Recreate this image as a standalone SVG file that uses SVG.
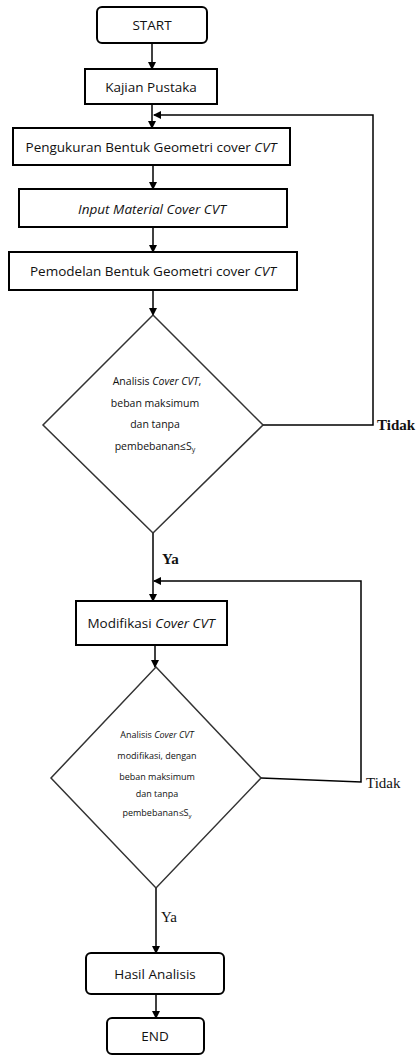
<svg xmlns="http://www.w3.org/2000/svg" width="419" height="1059" viewBox="0 0 419 1059">
<defs>
<marker id="ah" markerWidth="8" markerHeight="8" refX="7" refY="4" orient="auto" markerUnits="userSpaceOnUse">
<path d="M0,0 L8,4 L0,8 Z" fill="#000"/>
</marker>
</defs>
<style>
.box{fill:#fff;stroke:#000;stroke-width:2}
.dia{fill:#fff;stroke:#333;stroke-width:1.5}
.t{font-family:"Open Sans",sans-serif;font-size:13.5px;fill:#111;text-anchor:middle}
.it{font-style:italic}
.s{font-family:"Open Sans",sans-serif;font-size:10.5px;fill:#111;text-anchor:middle}
.s2{font-family:"Open Sans",sans-serif;font-size:9px;fill:#111;text-anchor:middle}
.lab{font-family:"Liberation Serif",serif;font-size:15px;fill:#111}
.c{fill:none;stroke:#000;stroke-width:1.5}
</style>
<rect width="419" height="1059" fill="#fff"/>
<g id="connectors">
<line class="c" x1="152" y1="43" x2="152" y2="69" marker-end="url(#ah)"/>
<line class="c" x1="152" y1="104" x2="152" y2="128" marker-end="url(#ah)"/>
<line class="c" x1="153" y1="165" x2="153" y2="189" marker-end="url(#ah)"/>
<line class="c" x1="153" y1="227" x2="153" y2="252" marker-end="url(#ah)"/>
<line class="c" x1="153" y1="290" x2="153" y2="315" marker-end="url(#ah)"/>
<polyline class="c" points="263,425 373,425 373,115 154,115" marker-end="url(#ah)"/>
<line class="c" x1="153" y1="533" x2="153" y2="601" marker-end="url(#ah)"/>
<polyline class="c" points="261,778 361,782 361,581 154,581" marker-end="url(#ah)"/>
<line class="c" x1="155" y1="645" x2="155" y2="667" marker-end="url(#ah)"/>
<line class="c" x1="156" y1="888" x2="156" y2="953" marker-end="url(#ah)"/>
<line class="c" x1="156" y1="994" x2="156" y2="1018" marker-end="url(#ah)"/>
<text class="lab" x="377" y="430" font-weight="bold">Tidak</text>
<text class="lab" x="162" y="564" font-weight="bold">Ya</text>
<text class="lab" x="366" y="788" font-size="14">Tidak</text>
<text class="lab" x="161" y="922" font-size="14">Ya</text>
</g>
<g id="start">
<rect class="box" x="97" y="7" width="110" height="36" rx="5"/>
<text class="t" x="152" y="30">START</text>
</g>
<g id="kajian">
<rect class="box" x="85" y="69" width="132" height="35"/>
<text class="t" x="151" y="92">Kajian Pustaka</text>
</g>
<g id="pengukuran">
<rect class="box" x="13" y="128" width="277" height="37"/>
<text class="t" x="151" y="152">Pengukuran Bentuk Geometri cover <tspan class="it">CVT</tspan></text>
</g>
<g id="input">
<rect class="box" x="19" y="189" width="268" height="38"/>
<text class="t it" x="152" y="214">Input Material Cover CVT</text>
</g>
<g id="pemodelan">
<rect class="box" x="9" y="252" width="288" height="38"/>
<text class="t" x="153" y="276">Pemodelan Bentuk Geometri cover <tspan class="it">CVT</tspan></text>
</g>
<g id="analisis1">
<polygon class="dia" points="153,315 263,425 153,533 43,425"/>
<text class="s" x="157" y="385">Analisis <tspan class="it">Cover CVT</tspan>,</text>
<text class="s" x="155" y="407">beban maksimum</text>
<text class="s" x="155" y="428">dan tanpa</text>
<text class="s" x="155" y="450">pembebanan≤S<tspan font-size="7" dy="2">y</tspan></text>
</g>
<g id="modifikasi">
<rect class="box" x="76" y="601" width="151" height="44"/>
<text class="t" x="151" y="628">Modifikasi <tspan class="it">Cover CVT</tspan></text>
</g>
<g id="analisis2">
<polygon class="dia" points="156,667 261,778 156,888 51,778"/>
<text class="s2" x="157" y="738">Analisis <tspan class="it">Cover CVT</tspan></text>
<text class="s2" x="157" y="759">modifikasi, dengan</text>
<text class="s2" x="157" y="780">beban maksimum</text>
<text class="s2" x="157" y="797">dan tanpa</text>
<text class="s2" x="157" y="816">pembebanan≤S<tspan font-size="6" dy="2">y</tspan></text>
</g>
<g id="hasil">
<rect class="box" x="86" y="953" width="138" height="41" rx="5"/>
<text class="t" x="155" y="979">Hasil Analisis</text>
</g>
<g id="end">
<rect class="box" x="107" y="1018" width="97" height="36" rx="5"/>
<text class="t" x="155" y="1041">END</text>
</g>
</svg>
